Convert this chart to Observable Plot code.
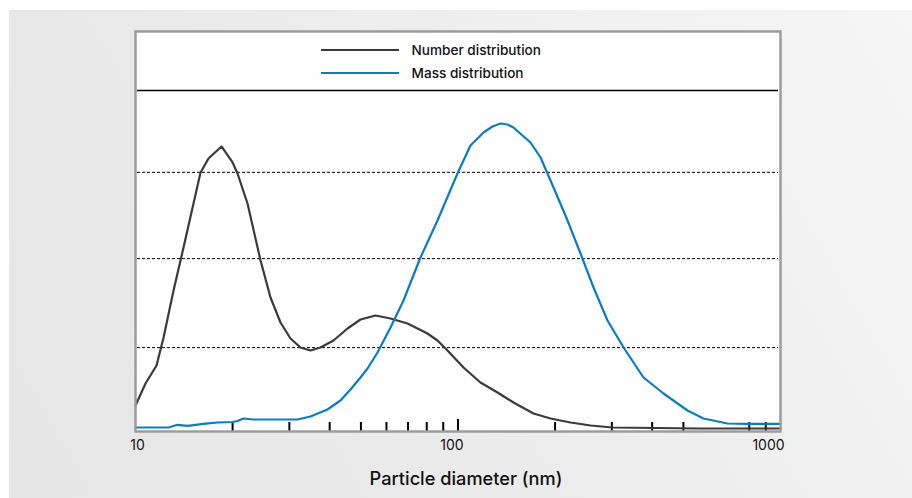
<!DOCTYPE html>
<html>
<head>
<meta charset="utf-8">
<script src="https://cdn.jsdelivr.net/npm/d3@7"></script>
<script src="https://cdn.jsdelivr.net/npm/@observablehq/plot@0.6"></script>
<style>
  html, body { margin: 0; padding: 0; background: #ffffff; }
  #wrap { position: relative; width: 912px; height: 498px; overflow: hidden; font-family: Inter, "Noto Sans", sans-serif; }
  #panel { position: absolute; left: 9px; top: 10px; right: 0; bottom: 0;
           background: linear-gradient(60deg, #e6e6e6 0%, #eaeaea 35%, #f0f0f0 70%, #f6f6f6 100%); }
  #chart { position: absolute; left: 0; top: 0; }
  #legend { position: absolute; left: 321px; top: 38.5px; font-size: 13.6px; font-weight: 500; color: #111; }
  #legend .item { display: flex; align-items: center; height: 22.7px; }
  #legend .sw { width: 78px; height: 0; border-top: 2px solid; margin-right: 12.5px; }
</style>
</head>
<body>
<div id="wrap">
  <div id="panel"></div>
  <div id="chart"></div>
  <div id="legend"></div>
</div>
<script>
// Series names and colours
const seriesNames = ["Number distribution", "Mass distribution"];
const seriesColors = ["#3a3a3a", "#0a7cc1"];

// Number distribution (particle diameter in nm, relative amount)
const numberX = [10, 10.74, 11.62, 12.22, 13.12, 14.09, 15.13, 15.91, 16.84, 18.48, 20.0, 20.72, 22.25, 24.42, 26.22, 28.16, 30.24, 32.48, 34.88, 37.47, 41.11, 45.44, 49.85, 55.5, 61.77, 69.74, 80.43, 86.38, 92.78, 104.0, 117.4, 132.6, 148.6, 171.5, 193.6, 223.3, 257.6, 301.4, 564.9, 1000];
const numberY = [7.62, 14.08, 19.35, 27.57, 41.35, 53.96, 66.86, 75.95, 80.06, 83.58, 78.89, 75.66, 66.86, 50.15, 39.30, 31.96, 27.27, 24.63, 23.75, 24.63, 26.69, 30.21, 32.84, 34.02, 33.14, 31.67, 28.74, 26.69, 23.75, 18.77, 14.37, 11.44, 8.50, 5.28, 3.81, 2.64, 1.76, 1.17, 0.88, 0.88];

// Mass distribution
const massX = [10, 12.66, 13.50, 14.50, 16.25, 17.96, 20.0, 20.72, 21.62, 23.22, 31.79, 34.88, 39.38, 43.21, 46.42, 49.85, 52.41, 56.29, 61.77, 67.76, 76.51, 86.38, 99.64, 109.3, 120.0, 127.9, 135.5, 142.4, 148.6, 167.8, 180.3, 193.6, 197.8, 218.6, 239.8, 263.2, 290.8, 326.1, 376.0, 433.8, 514.6, 577.0, 684.9, 790.1, 1000];
const massY = [1.17, 1.17, 1.96, 1.67, 2.26, 2.64, 2.79, 3.08, 3.81, 3.52, 3.52, 4.40, 6.45, 9.09, 12.32, 15.84, 18.48, 23.17, 30.50, 38.42, 51.03, 61.88, 75.66, 83.87, 87.68, 89.44, 90.32, 90.03, 89.15, 84.75, 80.35, 73.61, 71.55, 61.88, 52.20, 42.23, 32.55, 24.63, 15.84, 11.14, 6.16, 3.81, 2.35, 2.26, 2.26];

// Axis / grid
const xDomain = [10, 1000];
const yDomain = [0, 117.3];
const dashedGrid = [24.6, 50.7, 76];
const solidGrid = [100];
const minorTicks = [20, 30, 40, 50, 60, 70, 80, 90, 200, 300, 400, 500, 800, 900];
const majorTicks = [100];
const tickLabels = ["10", "100", "1000"];
const tickLabelValues = [10, 100, 1000];
const xTitle = "Particle diameter (nm)";

const numberData = numberX.map((x, i) => ({x, y: numberY[i]}));
const massData = massX.map((x, i) => ({x, y: massY[i]}));
const labelData = tickLabelValues.map((v, i) => ({v, t: tickLabels[i]}));

const fontFamily = "Inter, 'Noto Sans', sans-serif";

const chart = Plot.plot({
  width: 912,
  height: 498,
  marginLeft: 135,
  marginRight: 132,
  marginTop: 31,
  marginBottom: 67,
  style: {background: "transparent", fontFamily, color: "#111"},
  x: {type: "log", domain: xDomain, axis: null},
  y: {domain: yDomain, axis: null},
  marks: [
    Plot.frame({fill: "white", stroke: null}),
    Plot.ruleY(dashedGrid, {stroke: "#000", strokeWidth: 1, strokeDasharray: "3,2", insetLeft: 2, insetRight: 2}),
    Plot.ruleY(solidGrid, {stroke: "#000", strokeWidth: 1.5, insetLeft: 2, insetRight: 2}),
    Plot.ruleX(minorTicks, {stroke: "#000", strokeWidth: 2, insetTop: 391}),
    Plot.ruleX(majorTicks, {stroke: "#000", strokeWidth: 2, insetTop: 388}),
    Plot.line(numberData, {x: "x", y: "y", stroke: seriesColors[0], strokeWidth: 2.2, strokeLinejoin: "round"}),
    Plot.line(massData, {x: "x", y: "y", stroke: seriesColors[1], strokeWidth: 2.2, strokeLinejoin: "round"}),
    Plot.frame({stroke: "#9c9c9c", strokeWidth: 2.5}),
    Plot.text(labelData.filter(d => d.v === 10), {x: "v", y: 0, text: "t", dy: 14, dx: 2, fontSize: 14, fill: "#111", lineAnchor: "middle"}),
    Plot.text(labelData.filter(d => d.v === 100), {x: "v", y: 0, text: "t", dy: 14, dx: -6, fontSize: 14, fill: "#111", lineAnchor: "middle"}),
    Plot.text(labelData.filter(d => d.v === 1000), {x: "v", y: 0, text: "t", dy: 14, dx: -12, fontSize: 14, fill: "#111", lineAnchor: "middle"}),
    Plot.text([xTitle], {frameAnchor: "bottom", dy: 48, dx: 8, fontSize: 18.2, fontWeight: 500, fill: "#111", lineAnchor: "middle"})
  ]
});
document.getElementById("chart").appendChild(chart);

const legend = document.getElementById("legend");
seriesNames.forEach((name, i) => {
  const item = document.createElement("div");
  item.className = "item";
  const sw = document.createElement("span");
  sw.className = "sw";
  sw.style.borderTopColor = seriesColors[i];
  const label = document.createElement("span");
  label.textContent = name;
  item.appendChild(sw);
  item.appendChild(label);
  legend.appendChild(item);
});
</script>
</body>
</html>
